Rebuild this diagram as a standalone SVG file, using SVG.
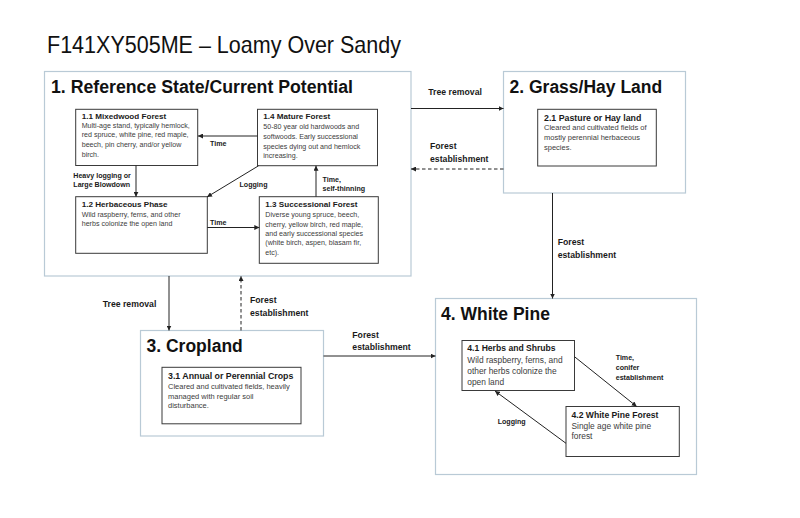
<svg xmlns="http://www.w3.org/2000/svg" width="800" height="518" viewBox="0 0 800 518">
<defs>
<style>
text{font-family:"Liberation Sans",Arial,sans-serif;}
.state{fill:#fff;stroke:#b9cad6;stroke-width:1.2;}
.box{fill:#fff;stroke:#3a3a3a;stroke-width:1;}
.st{font-size:17.5px;font-weight:bold;fill:#111;}
.t1{font-size:8.1px;font-weight:bold;fill:#1a1a1a;}
.b1{font-size:7.1px;fill:#3c3c3c;}
.t2{font-size:8.8px;font-weight:bold;fill:#1a1a1a;}
.b2{font-size:7.5px;fill:#3c3c3c;}
.t4{font-size:8.6px;font-weight:bold;fill:#1a1a1a;}
.b4{font-size:8.4px;fill:#3c3c3c;}
.lbl{font-size:7.1px;font-weight:bold;fill:#1a1a1a;}
.lblo{font-size:8.7px;font-weight:bold;fill:#1a1a1a;}
.con{fill:none;stroke:#222;stroke-width:1;}
.dash{stroke-dasharray:3.5,2.5;}
</style>
<marker id="ah" viewBox="0 0 6 6" refX="6" refY="3" markerWidth="5" markerHeight="5" markerUnits="userSpaceOnUse" orient="auto">
<path d="M0,0 L6,3 L0,6 Z" fill="#222"/>
</marker>
</defs>
<rect width="800" height="518" fill="#fff"/>
<text x="47" y="52.5" font-size="24" fill="#111" textLength="354" lengthAdjust="spacingAndGlyphs">F141XY505ME – Loamy Over Sandy</text>

<g id="state1">
<rect class="state" x="44.5" y="71.5" width="366.5" height="204.5"/>
<text class="st" x="51" y="93" textLength="302" lengthAdjust="spacingAndGlyphs">1. Reference State/Current Potential</text>
</g>
<g id="state2">
<rect class="state" x="503.5" y="71.5" width="182" height="121.5"/>
<text class="st" x="509.5" y="93">2. Grass/Hay Land</text>
</g>
<g id="state3">
<rect class="state" x="140.5" y="330.5" width="183" height="105.5"/>
<text class="st" x="146.5" y="352">3. Cropland</text>
</g>
<g id="state4">
<rect class="state" x="435.5" y="298.5" width="261" height="176"/>
<text class="st" x="441" y="319.5">4. White Pine</text>
</g>

<g id="n1_1">
<rect class="box" x="75.7" y="109.3" width="122" height="56.2"/>
<text class="t1" x="81.7" y="118.5">1.1 Mixedwood Forest</text>
<text class="b1" x="81.7" y="127.8">Multi-age stand, typically hemlock,</text>
<text class="b1" x="81.7" y="137.4">red spruce, white pine, red maple,</text>
<text class="b1" x="81.7" y="147">beech, pin cherry, and/or yellow</text>
<text class="b1" x="81.7" y="156.6">birch.</text>
</g>
<g id="n1_4">
<rect class="box" x="257.5" y="109.3" width="120" height="56.4"/>
<text class="t1" x="263.3" y="119.3">1.4 Mature Forest</text>
<text class="b1" x="263.3" y="129">50-80 year old hardwoods and</text>
<text class="b1" x="263.3" y="138.8">softwoods.  Early successional</text>
<text class="b1" x="263.3" y="148.5">species dying out and hemlock</text>
<text class="b1" x="263.3" y="158.2">increasing.</text>
</g>
<g id="n1_2">
<rect class="box" x="75.7" y="196.7" width="131.6" height="56.6"/>
<text class="t1" x="81.7" y="206.8">1.2 Herbaceous Phase</text>
<text class="b1" x="81.7" y="216.5">Wild raspberry, ferns, and other</text>
<text class="b1" x="81.7" y="226">herbs colonize the open land</text>
</g>
<g id="n1_3">
<rect class="box" x="259.3" y="196.7" width="119" height="66.6"/>
<text class="t1" x="265.3" y="207">1.3 Successional Forest</text>
<text class="b1" x="265.3" y="217.3">Diverse young spruce, beech,</text>
<text class="b1" x="265.3" y="226.7">cherry, yellow birch, red maple,</text>
<text class="b1" x="265.3" y="236">and early successional species</text>
<text class="b1" x="265.3" y="245.3">(white birch, aspen, blasam fir,</text>
<text class="b1" x="265.3" y="254.6">etc).</text>
</g>
<g id="n2_1">
<rect class="box" x="537.7" y="109.3" width="118.6" height="56.7"/>
<text class="t2" x="544" y="120.5">2.1 Pasture or Hay land</text>
<text class="b2" x="544" y="130.3">Cleared and cultivated fields of</text>
<text class="b2" x="544" y="140.2">mostly perennial herbaceous</text>
<text class="b2" x="544" y="150">species.</text>
</g>
<g id="n3_1">
<rect class="box" x="162" y="367.3" width="139" height="56.5"/>
<text class="t2" x="168" y="379">3.1 Annual or Perennial Crops</text>
<text class="b2" x="168" y="389.3">Cleared and cultivated fields, heavily</text>
<text class="b2" x="168" y="398.8">managed with regular soil</text>
<text class="b2" x="168" y="408.3">disturbance.</text>
</g>
<g id="n4_1">
<rect class="box" x="462" y="340.5" width="112.5" height="50"/>
<text class="t4" x="467.3" y="350.5">4.1 Herbs and Shrubs</text>
<text class="b4" x="467.3" y="363">Wild raspberry, ferns, and</text>
<text class="b4" x="467.3" y="374">other herbs colonize the</text>
<text class="b4" x="467.3" y="385">open land</text>
</g>
<g id="n4_2">
<rect class="box" x="566" y="406.5" width="113.3" height="50"/>
<text class="t4" x="571.5" y="418.3">4.2 White Pine Forest</text>
<text class="b4" x="571.5" y="428.5">Single age white pine</text>
<text class="b4" x="571.5" y="438.5">forest</text>
</g>

<g id="connectors">
<path class="con" d="M257.5,136 L198,136" marker-end="url(#ah)"/>
<path class="con" d="M136,165.5 L136,196.7" marker-end="url(#ah)"/>
<path class="con" d="M258.5,165.8 L207,197" marker-end="url(#ah)"/>
<path class="con" d="M207.3,227.5 L259.3,227.5" marker-end="url(#ah)"/>
<path class="con" d="M316,196.7 L316,165.7" marker-end="url(#ah)"/>
<path class="con" d="M411,108.5 L503.5,108.5" marker-end="url(#ah)"/>
<path class="con dash" d="M503.5,169 L411,169" marker-end="url(#ah)"/>
<path class="con" d="M552.5,193 L552.5,298.5" marker-end="url(#ah)"/>
<path class="con" d="M169,276 L169,330.5" marker-end="url(#ah)"/>
<path class="con dash" d="M241,330.5 L241,276" marker-end="url(#ah)"/>
<path class="con" d="M323.5,356 L435.5,356" marker-end="url(#ah)"/>
<path class="con" d="M574.5,356.7 L636.7,406.5" marker-end="url(#ah)"/>
<path class="con" d="M566,443.3 L495,391" marker-end="url(#ah)"/>
<text class="lbl" x="210" y="145.5">Time</text>
<text class="lbl" x="73.3" y="177.7">Heavy logging or</text>
<text class="lbl" x="73.3" y="187.2">Large Blowdown</text>
<text class="lbl" x="239.5" y="186.5">Logging</text>
<text class="lbl" x="210" y="225">Time</text>
<text class="lbl" x="322.5" y="181.5">Time,</text>
<text class="lbl" x="322.5" y="190.7">self-thinning</text>
<text class="lblo" x="428.3" y="95">Tree removal</text>
<text class="lblo" x="430" y="149">Forest</text>
<text class="lblo" x="430" y="161.7">establishment</text>
<text class="lblo" x="557.7" y="245">Forest</text>
<text class="lblo" x="557.7" y="257.7">establishment</text>
<text class="lblo" x="102.7" y="306.7">Tree removal</text>
<text class="lblo" x="250" y="303.3">Forest</text>
<text class="lblo" x="250" y="316">establishment</text>
<text class="lblo" x="352.3" y="337.7">Forest</text>
<text class="lblo" x="352.3" y="350.3">establishment</text>
<text class="lbl" x="615.7" y="360">Time,</text>
<text class="lbl" x="615.7" y="370">conifer</text>
<text class="lbl" x="615.7" y="380">establishment</text>
<text class="lbl" x="497.7" y="424.3">Logging</text>
</g>
</svg>
